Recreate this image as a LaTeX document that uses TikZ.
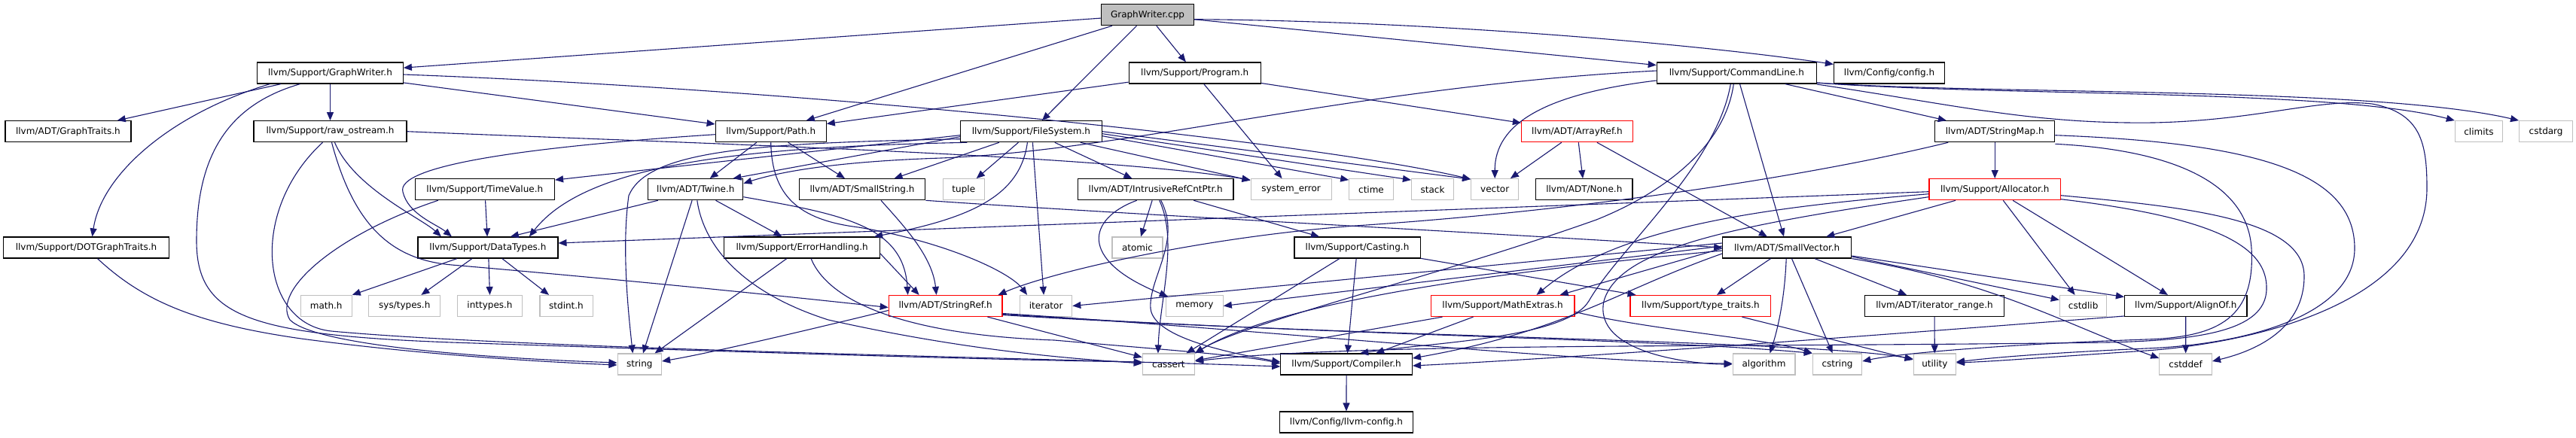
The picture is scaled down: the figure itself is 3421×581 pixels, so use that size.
\documentclass[tikz,border=0pt]{standalone}
\usepackage{fontspec}
\setmainfont{DejaVu Sans}
\usetikzlibrary{arrows.meta}
\definecolor{edgec}{HTML}{191970}
\definecolor{grayb}{HTML}{BFBFBF}
\begin{document}
\begin{tikzpicture}[x=1pt,y=-1pt,
 nd/.style={draw=black, line width=1.2pt, minimum height=28pt, inner sep=0pt, font=\fontsize{12}{14}\selectfont, text=black},
 sys/.style={nd, draw=grayb},
 trunc/.style={nd, draw=red},
 e/.style={draw=edgec, line width=1.1pt, -{Triangle[length=11pt,width=9pt]}},
]
\path[fill=white] (0,0) rectangle (3421,581);
% row 1
\node[nd, fill=grayb, minimum width=123pt] (cpp) at (1524,19.7) {GraphWriter.cpp};
% row 2
\node[nd, minimum width=193.5pt] (gwh) at (438.5,97) {llvm/Support/GraphWriter.h};
\node[nd, minimum width=175pt] (prog) at (1586.7,97) {llvm/Support/Program.h};
\node[nd, minimum width=212pt] (cl) at (2306.3,97) {llvm/Support/CommandLine.h};
\node[nd, minimum width=147pt] (cfg) at (2509,97) {llvm/Config/config.h};
% row 3
\node[nd, minimum width=167pt] (gt) at (90.4,174.7) {llvm/ADT/GraphTraits.h};
\node[nd, minimum width=203pt] (ro) at (438.5,174.7) {llvm/Support/raw\_ostream.h};
\node[nd, minimum width=147pt] (path) at (1023.7,174.7) {llvm/Support/Path.h};
\node[nd, minimum width=188pt] (fs) at (1369.4,174.7) {llvm/Support/FileSystem.h};
\node[trunc, minimum width=148pt] (ar) at (2094.5,174.7) {llvm/ADT/ArrayRef.h};
\node[nd, minimum width=159pt] (sm) at (2649.2,174.7) {llvm/ADT/StringMap.h};
\node[sys, minimum width=63pt] (climits) at (3291.9,174.7) {climits};
\node[sys, minimum width=71pt] (cstdarg) at (3381.1,174.7) {cstdarg};
% row 4
\node[nd, minimum width=185.3pt] (tv) at (643.8,251.7) {llvm/Support/TimeValue.h};
\node[nd, minimum width=126pt] (tw) at (923.8,251.7) {llvm/ADT/Twine.h};
\node[nd, minimum width=167.6pt] (ss) at (1145,251.7) {llvm/ADT/SmallString.h};
\node[sys, minimum width=54.7pt] (tuple) at (1279.8,251.7) {tuple};
\node[nd, minimum width=206.4pt] (irc) at (1534.7,251.7) {llvm/ADT/IntrusiveRefCntPtr.h};
\node[sys, minimum width=107pt] (se) at (1714.6,251.7) {system\_error};
\node[sys, minimum width=58.4pt] (ctime) at (1821,251.7) {ctime};
\node[sys, minimum width=56pt] (stack) at (1902.5,251.7) {stack};
\node[sys, minimum width=63pt] (vector) at (1985.2,251.7) {vector};
\node[nd, minimum width=128.3pt] (none) at (2103.8,251.7) {llvm/ADT/None.h};
\node[trunc, minimum width=174.6pt] (alloc) at (2649.2,251.7) {llvm/Support/Allocator.h};
% row 5
\node[nd, minimum width=219.4pt] (dot) at (114.5,329) {llvm/Support/DOTGraphTraits.h};
\node[nd, minimum width=186pt] (dt) at (647.9,329) {llvm/Support/DataTypes.h};
\node[nd, minimum width=206.8pt] (eh) at (1065.1,329) {llvm/Support/ErrorHandling.h};
\node[sys, minimum width=67pt] (atomic) at (1510.5,329) {atomic};
\node[nd, minimum width=167.2pt] (cast) at (1802.5,329) {llvm/Support/Casting.h};
\node[nd, minimum width=171pt] (sv) at (2373.2,329) {llvm/ADT/SmallVector.h};
% row 6
\node[sys, minimum width=68pt] (math) at (433.2,406.5) {math.h};
\node[sys, minimum width=95pt] (systypes) at (537.3,406.5) {sys/types.h};
\node[sys, minimum width=85.5pt] (inttypes) at (650.5,406.5) {inttypes.h};
\node[sys, minimum width=70.2pt] (stdint) at (752,406.5) {stdint.h};
\node[trunc, minimum width=150.6pt] (sr) at (1255.6,406.5) {llvm/ADT/StringRef.h};
\node[sys, minimum width=69.2pt] (iterator) at (1389.1,406.5) {iterator};
\node[sys, minimum width=75.8pt] (memory) at (1586.3,406.5) {memory};
\node[trunc, minimum width=190.9pt] (me) at (1995.6,406.5) {llvm/Support/MathExtras.h};
\node[trunc, minimum width=186.8pt] (tt) at (2258.4,406.5) {llvm/Support/type\_traits.h};
\node[nd, minimum width=185.3pt] (ir) at (2569,406.5) {llvm/ADT/iterator\_range.h};
\node[sys, minimum width=62.5pt] (cstdlib) at (2766.6,406.5) {cstdlib};
\node[nd, minimum width=162.5pt] (ao) at (2902.8,406.5) {llvm/Support/AlignOf.h};
% row 7
\node[sys, minimum width=58.4pt] (string) at (849.3,484) {string};
\node[sys, minimum width=69.2pt] (cassert) at (1551.9,484) {cassert};
\node[nd, minimum width=174.6pt] (comp) at (1788.1,484) {llvm/Support/Compiler.h};
\node[sys, minimum width=82.8pt] (algorithm) at (2342.5,484) {algorithm};
\node[sys, minimum width=65.5pt] (cstring) at (2440,484) {cstring};
\node[sys, minimum width=56.2pt] (utility) at (2569.3,484) {utility};
\node[sys, minimum width=69.6pt] (cstddef) at (2902.6,484) {cstddef};
% row 8
\node[nd, minimum width=177.2pt] (lc) at (1787.9,561) {llvm/Config/llvm-config.h};

% ---- edges: GraphWriter.cpp
\draw[e] (cpp) -- (gwh);
\draw[e] (cpp) -- (path);
\draw[e] (cpp) -- (fs);
\draw[e] (cpp) -- (prog);
\draw[e] (cpp) -- (cl);
\draw[e] ([yshift=-6pt]cpp.east) .. controls (1900,28) and (2250,58) .. ([yshift=-3pt]cfg.north west);
% GraphWriter.h
\draw[e] (gwh) -- (gt);
\draw[e] ([xshift=-80pt]gwh.south) .. controls (230,150) and (135,230) .. ([xshift=8pt]dot.north);
\draw[e] (gwh) -- (ro);
\draw[e] (gwh) -- (path);
\draw[e] ([yshift=-2pt]gwh.east) .. controls (1100,120) and (1750,190) .. ([yshift=-1pt]vector.north west);
\draw[e] ([xshift=-40pt]gwh.south) .. controls (300,140) and (261,210) .. (261,320) .. controls (261,420) and (330,445) .. (600,455) .. controls (900,465) and (1300,478) .. ([yshift=3pt]cassert.west);
% DOTGraphTraits.h
\draw[e] ([xshift=15pt]dot.south) .. controls (190,400) and (260,430) .. (400,450) .. controls (550,470) and (700,480) .. ([yshift=-1pt]string.west);
% raw_ostream.h
\draw[e] ([xshift=6pt]ro.south) .. controls (470,250) and (560,290) .. ([xshift=-62pt]dt.north);
\draw[e] ([xshift=2pt]ro.south) .. controls (470,300) and (520,345) .. (600,352) .. controls (900,378) and (1100,400) .. ([yshift=-2pt]sr.west);
\draw[e] ([xshift=-10pt]ro.south) .. controls (330,280) and (345,430) .. (440,440) .. controls (700,464) and (1400,476) .. ([yshift=-3pt]comp.west);
\draw[e] (ro.east) .. controls (900,190) and (1450,205) .. ([yshift=-2pt]se.north west);
% Path.h
\draw[e] (path) -- (tw);
\draw[e] (path) -- (ss);
\draw[e] ([yshift=-4pt]path.west) .. controls (700,195) and (525,220) .. (535,255) .. controls (542,285) and (580,298) .. ([xshift=-48pt]dt.north);
\draw[e] (path.south) .. controls (1025,260) and (1060,292) .. (1140,302) .. controls (1250,320) and (1340,360) .. ([xshift=-25pt]iterator.north);
% FileSystem.h
\draw[e] ([yshift=-5pt]fs.west) -- ([yshift=-2pt]tv.north east);
\draw[e] ([yshift=-7pt]fs.west) -- ([xshift=-14pt]tw.north east);
\draw[e] ([xshift=-85pt]fs.south) .. controls (1000,195) and (780,215) .. ([xshift=55pt]dt.north);
\draw[e] ([yshift=-10pt]fs.west) .. controls (1000,190) and (860,200) .. (835,260) .. controls (825,330) and (835,420) .. ([xshift=-9pt]string.north);
\draw[e] (fs) -- (ss);
\draw[e] (fs) -- (tuple);
\draw[e] (fs) -- (irc);
\draw[e] (fs) -- (se);
\draw[e] ([yshift=-6pt]fs.east) -- ([yshift=-2pt]ctime.north west);
\draw[e] ([yshift=-3pt]fs.east) -- ([yshift=-2pt]stack.north west);
\draw[e] (fs.east) -- ([yshift=-1pt]vector.north west);
\draw[e] ([xshift=2pt]fs.south) -- ([xshift=-3pt]iterator.north);
\draw[e] ([xshift=-5pt]fs.south) .. controls (1355,260) and (1290,290) .. ([xshift=-8pt]eh.north east);
% Program.h
\draw[e] (prog) -- (path);
\draw[e] (prog) -- (ar);
\draw[e] (prog) -- (se);
% CommandLine.h
\draw[e] ([yshift=3pt]cl.west) .. controls (1800,115) and (1500,200) .. (1250,210) .. controls (1100,215) and (1030,230) .. ([yshift=8pt]tw.east);
\draw[e] ([yshift=-10pt]cl.west) .. controls (2050,125) and (1985,165) .. (vector.north);
\draw[e] (cl) -- (sm);
\draw[e] (cl) -- (sv);
\draw[e] ([xshift=-8pt]cl.south) .. controls (2280,220) and (2150,330) .. (2110,400) .. controls (2080,450) and (1900,455) .. ([xshift=18pt]comp.north);
\draw[e] ([xshift=-4pt]cl.south) .. controls (2290,200) and (2200,260) .. (2120,292) .. controls (1900,370) and (1650,430) .. (cassert.north east);
\draw[e] ([yshift=-13pt]cl.east) .. controls (2650,128) and (3100,118) .. (climits.north west);
\draw[e] ([yshift=-13pt]cl.east) .. controls (2650,126) and (3150,115) .. (cstdarg.north west);
\draw[e] ([yshift=-15pt]cl.east) .. controls (2600,140) and (2700,165) .. (2860,163) .. controls (3000,160) and (3080,130) .. (3150,138) .. controls (3215,150) and (3223,190) .. (3223,250) .. controls (3223,400) and (3000,455) .. (2850,466) .. controls (2700,476) and (2650,480) .. ([yshift=2pt]utility.east);
% ArrayRef.h
\draw[e] (ar) -- (vector);
\draw[e] (ar) -- (none);
\draw[e] (ar) -- (sv);
% StringMap.h
\draw[e] (sm) -- (alloc);
\draw[e] ([xshift=-62pt]sm.south) .. controls (2400,235) and (2100,280) .. (1800,300) .. controls (1600,315) and (1400,360) .. ([xshift=-6pt]sr.north east);
\draw[e] ([yshift=-2pt]sm.south east) .. controls (2900,200) and (2985,250) .. (2990,330) .. controls (2995,420) and (2950,448) .. (2850,451) .. controls (2650,458) and (2520,470) .. ([yshift=4pt]cstring.east);
\draw[e] ([yshift=-5pt]sm.east) .. controls (3000,190) and (3127,230) .. (3127,330) .. controls (3127,420) and (2980,458) .. (2850,463) .. controls (2700,470) and (2640,476) .. ([yshift=3pt]utility.east);
% TimeValue.h
\draw[e] (tv) -- (dt);
\draw[e] ([xshift=-62pt]tv.south) .. controls (450,310) and (360,385) .. (385,425) .. controls (420,460) and (650,476) .. ([yshift=2pt]string.west);
% Twine.h
\draw[e] ([xshift=-50pt]tw.south) -- ([xshift=30pt]dt.north);
\draw[e] (tw) -- (eh);
\draw[e] (tw) -- (string);
\draw[e] ([xshift=2pt]tw.south) .. controls (935,330) and (990,390) .. (1100,425) .. controls (1300,470) and (1450,478) .. ([yshift=1pt]cassert.west);
\draw[e] ([yshift=-10pt]tw.east) .. controls (1120,285) and (1200,300) .. ([xshift=-50pt]sr.north);
% SmallString.h
\draw[e] ([xshift=25pt]ss.south) .. controls (1200,300) and (1238,340) .. ([xshift=-12pt]sr.north);
\draw[e] (ss.south east) .. controls (1500,285) and (1900,305) .. (sv.west);
% IntrusiveRefCntPtr.h
\draw[e] (irc) -- (atomic);
\draw[e] ([xshift=-25pt]irc.south) .. controls (1445,290) and (1430,345) .. ([xshift=3pt,yshift=-2pt]memory.north west);
\draw[e] ([xshift=5pt]irc.south) .. controls (1565,320) and (1540,400) .. ([xshift=-14pt]cassert.north);
\draw[e] ([xshift=7pt]irc.south) .. controls (1570,320) and (1525,370) .. (1528,410) .. controls (1532,450) and (1640,470) .. ([yshift=3pt]comp.west);
\draw[e] (irc) -- (cast);
% DataTypes.h
\draw[e] ([xshift=-41pt]dt.south) -- (math.north east);
\draw[e] ([xshift=-21pt]dt.south) -- ([xshift=-26pt]systypes.north east);
\draw[e] ([xshift=1pt]dt.south) -- (inttypes.north);
\draw[e] ([xshift=19pt]dt.south) -- ([xshift=-23pt]stdint.north);
% ErrorHandling.h
\draw[e] (eh) -- (string);
\draw[e] ([yshift=-8pt]eh.east) -- ([xshift=-35pt]sr.north);
\draw[e] ([xshift=12pt]eh.south) .. controls (1100,400) and (1200,445) .. (1400,452) .. controls (1550,465) and (1650,472) .. ([yshift=1pt]comp.west);
% Casting.h
\draw[e] (cast) -- (tt);
\draw[e] (cast) -- (comp);
\draw[e] (cast) -- (cassert);
% SmallVector.h
\draw[e] ([yshift=-11pt]sv.east) -- ([yshift=12pt]ao.west);
\draw[e] ([yshift=-12pt]sv.east) -- ([yshift=8pt]cstdlib.west);
\draw[e] (sv.south east) .. controls (2650,375) and (2740,430) .. ([yshift=8pt]cstddef.west);
\draw[e] (sv) -- (ir);
\draw[e] (sv) -- (cstring);
\draw[e] ([xshift=-1pt]sv.south) .. controls (2370,400) and (2360,440) .. ([xshift=8pt]algorithm.north);
\draw[e] (sv) -- (tt);
\draw[e] ([yshift=-8pt]sv.west) .. controls (2150,385) and (2080,440) .. ([yshift=8pt]comp.east);
\draw[e] ([yshift=-4pt]sv.west) .. controls (2000,360) and (1700,400) .. (cassert.north east);
\draw[e] ([yshift=-1pt]sv.west) -- ([xshift=-20pt]me.north east);
\draw[e] ([yshift=6pt]sv.west) -- (iterator.east);
\draw[e] ([yshift=2pt]sv.west) -- (memory.east);
% Allocator.h
\draw[e] (alloc) -- (sv);
\draw[e] ([yshift=-3pt]alloc.west) -- ([yshift=6pt]dt.east);
\draw[e] ([yshift=-6pt]alloc.west) .. controls (2350,275) and (2150,300) .. ([xshift=45pt]me.north);
\draw[e] (alloc) -- (cstdlib);
\draw[e] (alloc) -- (ao);
\draw[e] ([yshift=-8pt]alloc.east) .. controls (2900,275) and (3060,290) .. (3060,367) .. controls (3060,435) and (3000,465) .. ([yshift=4pt]cstddef.east);
\draw[e] ([yshift=-13pt]alloc.east) .. controls (2950,290) and (3012,330) .. (3010,385) .. controls (3008,440) and (2920,452) .. (2800,455) .. controls (2300,462) and (1800,455) .. ([yshift=4pt]cassert.east);
\draw[e] ([yshift=-10pt]alloc.west) .. controls (2300,300) and (2150,330) .. (2130,400) .. controls (2115,470) and (2250,484) .. (algorithm.west);
% StringRef.h
\draw[e] ([yshift=-6pt]sr.west) .. controls (1100,432) and (950,468) .. ([yshift=4pt]string.east);
\draw[e] (sr) -- (cassert);
\draw[e] ([yshift=-10pt]sr.east) .. controls (1700,440) and (2100,482) .. ([yshift=1pt]algorithm.west);
\draw[e] ([yshift=-11pt]sr.east) .. controls (1750,445) and (2200,450) .. (cstring.north west);
\draw[e] ([yshift=-12pt]sr.east) .. controls (1800,448) and (2400,452) .. ([yshift=7pt]utility.west);
% MathExtras.h
\draw[e] (me) -- (comp);
\draw[e] ([xshift=-80pt]me.south) -- ([yshift=5pt]cassert.east);
\draw[e] ([yshift=-8pt]me.east) .. controls (2200,440) and (2350,450) .. (cstring.north west);
% type_traits.h
\draw[e] ([xshift=55pt]tt.south) -- ([yshift=6pt]utility.west);
% iterator_range.h
\draw[e] (ir) -- (utility);
% AlignOf.h
\draw[e] ([yshift=-13.5pt]ao.west) .. controls (2500,445) and (2100,475) .. ([yshift=-2pt]comp.east);
\draw[e] (ao) -- (cstddef);
% Compiler.h
\draw[e] (comp) -- (lc);
\end{tikzpicture}
\end{document}
